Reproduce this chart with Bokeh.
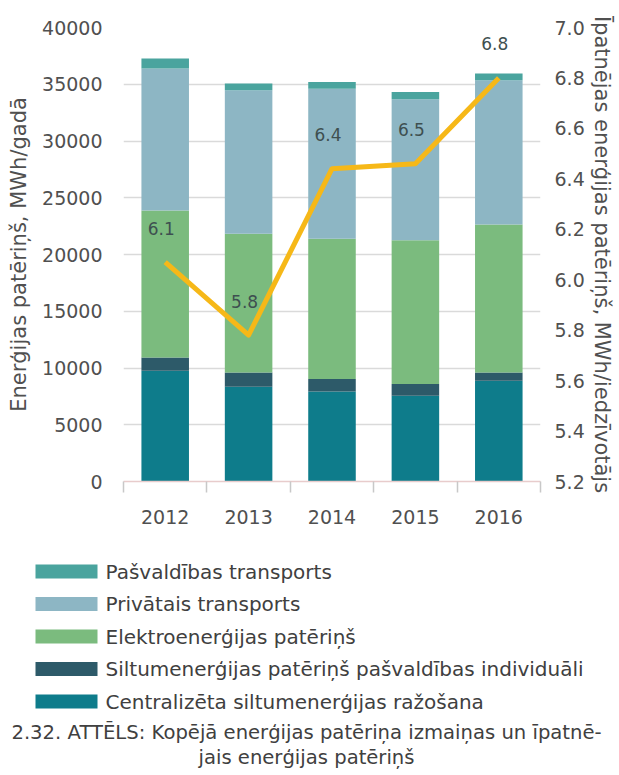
from bokeh.plotting import figure
from bokeh.models import Range1d, LinearAxis, FixedTicker, PrintfTickFormatter, ColumnDataSource
from bokeh.layouts import column
from bokeh.core.properties import value
from bokeh.embed import file_html
from bokeh.resources import INLINE

# ---------------- data ----------------
years = [2012, 2013, 2014, 2015, 2016]
centralizeta = [9750, 8340, 7930, 7550, 8870]
siltum_individ = [1180, 1260, 1090, 1030, 730]
elektro = [12940, 12220, 12360, 12670, 13040]
privatais = [12510, 12650, 13230, 12420, 12710]
pasvaldibas = [880, 590, 590, 650, 590]
ipatnejais = [6.07, 5.78, 6.44, 6.46, 6.80]

series_names = ["centralizeta", "siltum_individ", "elektro", "privatais", "pasvaldibas"]
series_labels = [
    "Centralizēta siltumenerģijas ražošana",
    "Siltumenerģijas patēriņš pašvaldības individuāli",
    "Elektroenerģijas patēriņš",
    "Privātais transports",
    "Pašvaldības transports",
]
series_colors = ["#0E7C8B", "#2D5A69", "#7BBB7E", "#8DB6C4", "#4AA49E"]

left_ticks = [0, 5000, 10000, 15000, 20000, 25000, 30000, 35000, 40000]
right_ticks = [5.2, 5.4, 5.6, 5.8, 6.0, 6.2, 6.4, 6.6, 6.8, 7.0]

left_title = "Enerģijas patēriņš, MWh/gadā"
right_title = "Īpatnējas enerģijas patēriņš, MWh/iedzīvotājs"
caption_lines = [
    "2.32. ATTĒLS: Kopējā enerģijas patēriņa izmaiņas un īpatnē-",
    "jais enerģijas patēriņš",
]

FONT = "DejaVu Sans"
TXT = "#505050"

W = 619
H1 = 541
H2 = 234

# ---------------- chart ----------------
src = ColumnDataSource(dict(
    year=years,
    centralizeta=centralizeta,
    siltum_individ=siltum_individ,
    elektro=elektro,
    privatais=privatais,
    pasvaldibas=pasvaldibas,
))

p = figure(width=W, height=H1,
           x_range=Range1d(years[0] - 0.5, years[-1] + 0.5),
           y_range=Range1d(left_ticks[0], left_ticks[-1]),
           output_backend="svg", toolbar_location=None,
           min_border_left=123, min_border_right=79,
           min_border_top=27, min_border_bottom=60)
p.outline_line_color = None
p.background_fill_color = "white"

p.extra_y_ranges = {"right": Range1d(right_ticks[0], right_ticks[-1])}

p.vbar_stack(series_names, x="year", width=0.57, color=series_colors,
             line_color=None, source=src)

p.line(years, ipatnejais, y_range_name="right", line_width=5,
       color="#F6B818", line_join="round")

p.text(x=years, y=ipatnejais, text=[f"{v:.1f}" for v in ipatnejais],
       y_range_name="right", x_offset=-4, y_offset=-34,
       text_align="center", text_baseline="middle",
       text_font=value(FONT), text_font_size="17px", text_color="#3e4f50")

# grid
p.xgrid.visible = False
p.ygrid.ticker = FixedTicker(ticks=left_ticks)
p.ygrid.grid_line_color = "#dadada"
p.ygrid.grid_line_width = 1.5

# left axis
ya = p.yaxis[0]
ya.ticker = FixedTicker(ticks=left_ticks)
ya.axis_line_color = None
ya.major_tick_line_color = None
ya.minor_tick_line_color = None
ya.major_label_standoff = 15
ya.major_label_text_font = FONT
ya.major_label_text_font_size = "19px"
ya.major_label_text_color = TXT
ya.axis_label = left_title
ya.axis_label_text_font = FONT
ya.axis_label_text_font_size = "21px"
ya.axis_label_text_font_style = "normal"
ya.axis_label_text_color = TXT
ya.axis_label_standoff = 8

# bottom axis
xa = p.xaxis[0]
boundaries = [y - 0.5 for y in years] + [years[-1] + 0.5]
xa.ticker = FixedTicker(ticks=years, minor_ticks=boundaries)
xa.major_tick_line_color = None
xa.minor_tick_out = 11
xa.minor_tick_in = 0
xa.minor_tick_line_color = "#c8c8c8"
xa.minor_tick_line_width = 1.5
xa.axis_line_color = "#e8cccc"
xa.axis_line_width = 1.5
xa.major_label_standoff = 17
xa.major_label_text_font = FONT
xa.major_label_text_font_size = "19px"
xa.major_label_text_color = TXT

# right axis
ra = LinearAxis(y_range_name="right",
                ticker=FixedTicker(ticks=right_ticks),
                formatter=PrintfTickFormatter(format="%.1f"))
ra.axis_line_color = None
ra.major_tick_line_color = None
ra.minor_tick_line_color = None
ra.major_label_standoff = 8
ra.major_label_text_font = FONT
ra.major_label_text_font_size = "19px"
ra.major_label_text_color = TXT
ra.axis_label = right_title
ra.axis_label_text_font = FONT
ra.axis_label_text_font_size = "21px"
ra.axis_label_text_font_style = "normal"
ra.axis_label_text_color = TXT
ra.axis_label_standoff = 2
p.add_layout(ra, "right")

# ---------------- legend + caption ----------------
q = figure(width=W, height=H2, x_range=Range1d(0, W), y_range=Range1d(H2, 0),
           output_backend="svg", toolbar_location=None,
           x_axis_type=None, y_axis_type=None, min_border=0)
q.outline_line_color = None
q.xgrid.visible = False
q.ygrid.visible = False

for fig in (p, q):
    try:
        fig.frame_align = False
    except Exception:
        pass

leg_labels = series_labels[::-1]
leg_colors = series_colors[::-1]
row_y = [30 + 32.5 * i for i in range(len(leg_labels))]
q.rect(x=[66] * len(leg_labels), y=row_y, width=62, height=14,
       color=leg_colors, line_color=None)
q.text(x=[105] * len(leg_labels), y=row_y, text=leg_labels,
       text_align="left", text_baseline="middle",
       text_font=value(FONT), text_font_size="20px", text_color="#404040")

q.text(x=[306, 306], y=[191, 216], text=caption_lines,
       text_align="center", text_baseline="middle",
       text_font=value(FONT), text_font_size="19.6px", text_color="#404040")

layout = column(p, q, spacing=0)
open("out.html", "w").write(file_html(layout, INLINE))
